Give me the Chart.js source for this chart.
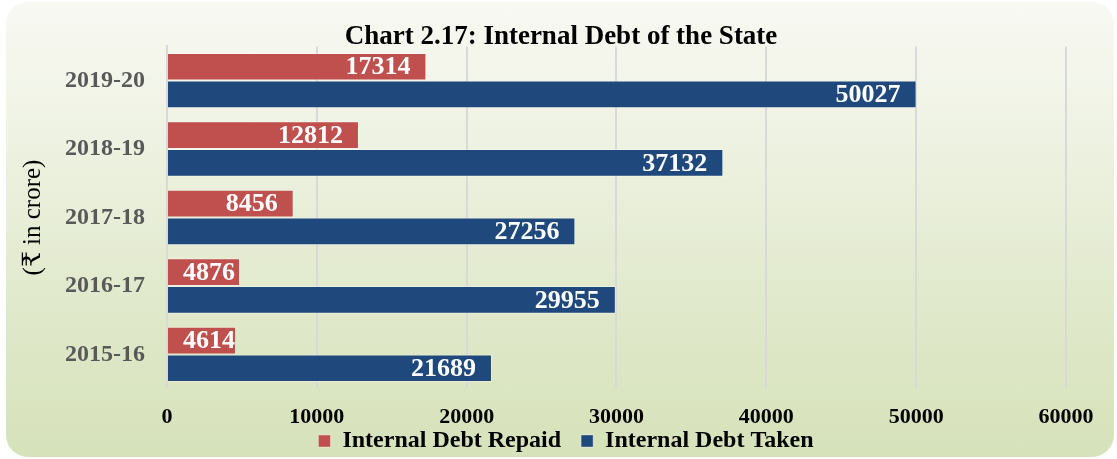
<!DOCTYPE html>
<html>
<head>
<meta charset="utf-8">
<script src="https://cdn.jsdelivr.net/npm/chart.js@4.4.1/dist/chart.umd.min.js"></script>
<style>
  html, body { margin: 0; padding: 0; background: #ffffff; }
  #wrap {
    position: absolute; left: 6px; top: 2px; width: 1108px; height: 455px;
    border-radius: 22px;
    background: linear-gradient(to bottom, #f8f9f3 0%, #eef2e2 30%, #dfe8c9 70%, #d6e2ba 100%);
    overflow: hidden;
  }
</style>
</head>
<body>
<div id="wrap"><canvas id="debtChart"></canvas></div>
<script>
// data
const years = ['2019-20', '2018-19', '2017-18', '2016-17', '2015-16'];
const debtRepaid = [17314, 12812, 8456, 4876, 4614];
const debtTaken = [50027, 37132, 27256, 29955, 21689];

const serif = '"Liberation Serif", "Times New Roman", "DejaVu Serif", serif';

// white value labels at the inner end of each bar (kept clear of the axis on short bars)
const barLabels = {
  id: 'barLabels',
  afterDatasetsDraw(chart) {
    const ctx = chart.ctx;
    ctx.save();
    ctx.font = 'bold 26px ' + serif;
    ctx.fillStyle = '#ffffff';
    ctx.textAlign = 'right';
    ctx.textBaseline = 'middle';
    chart.data.datasets.forEach((ds, i) => {
      chart.getDatasetMeta(i).data.forEach((bar, j) => {
        const txt = String(ds.data[j]);
        const w = ctx.measureText(txt).width;
        const right = Math.max(bar.x - 16, bar.base + 15 + w);
        ctx.fillText(txt, right, bar.y + 1);
      });
    });
    ctx.restore();
  }
};

// nudge a layout box when it is drawn, without changing the space it takes
function shiftDraw(box, dx, dy) {
  const draw = box.draw;
  box.draw = function () {
    this.left += dx; this.right += dx; this.top += dy;
    draw.apply(this, arguments);
    this.left -= dx; this.right -= dx; this.top -= dy;
  };
}

// legend keeps wide item spacing but takes less height, so it sits close under the ticks
const LEGEND_TRIM = 38;
const boxTweaks = {
  id: 'boxTweaks',
  afterInit(chart) {
    const legend = chart.legend;
    if (legend) {
      const fit = legend.fit;
      legend.fit = function () {
        fit.call(this);
        this.height -= LEGEND_TRIM;
      };
      shiftDraw(legend, 24, -LEGEND_TRIM);
    }
    if (chart.titleBlock) shiftDraw(chart.titleBlock, 19, 0);
  }
};

new Chart(document.getElementById('debtChart'), {
  type: 'bar',
  data: {
    labels: years,
    datasets: [
      {
        label: 'Internal Debt Repaid',
        data: debtRepaid,
        backgroundColor: '#c0504d',
        borderColor: 'rgba(255,255,255,0.35)',
        borderWidth: 1,
        categoryPercentage: 0.81,
        barPercentage: 1.0
      },
      {
        label: 'Internal Debt Taken',
        data: debtTaken,
        backgroundColor: '#1f497d',
        borderColor: 'rgba(255,255,255,0.35)',
        borderWidth: 1,
        categoryPercentage: 0.81,
        barPercentage: 1.0
      }
    ]
  },
  options: {
    indexAxis: 'y',
    responsive: true,
    maintainAspectRatio: false,
    animation: false,
    layout: { padding: { left: 12, right: 48, top: 19, bottom: -6 } },
    plugins: {
      title: {
        display: true,
        text: 'Chart 2.17: Internal Debt of the State',
        color: '#000000',
        font: { family: serif, size: 27, weight: 'bold' },
        padding: { top: 0, bottom: -7 }
      },
      legend: {
        position: 'bottom',
        labels: {
          color: '#000000',
          font: { family: serif, size: 24, weight: 'bold' },
          boxWidth: 12,
          boxHeight: 12,
          padding: 20
        }
      },
      tooltip: { enabled: false }
    },
    scales: {
      x: {
        min: 0,
        max: 60000,
        ticks: {
          stepSize: 10000,
          color: '#000000',
          font: { family: serif, size: 22, weight: 'bold' },
          padding: 16,
          callback: (v) => String(v)
        },
        grid: { color: '#d9d9d9', lineWidth: 2, drawTicks: false },
        border: { display: false }
      },
      y: {
        ticks: {
          color: '#595959',
          font: { family: serif, size: 24, weight: 'bold' },
          padding: 14
        },
        grid: { display: false },
        border: { display: true, color: '#d9d9d9', width: 2 },
        title: {
          display: true,
          text: '(₹ in crore)',
          color: '#000000',
          font: { family: serif, size: 25, weight: 'normal' },
          padding: { top: 0, bottom: 3 }
        }
      }
    }
  },
  plugins: [barLabels, boxTweaks]
});
</script>
</body>
</html>
